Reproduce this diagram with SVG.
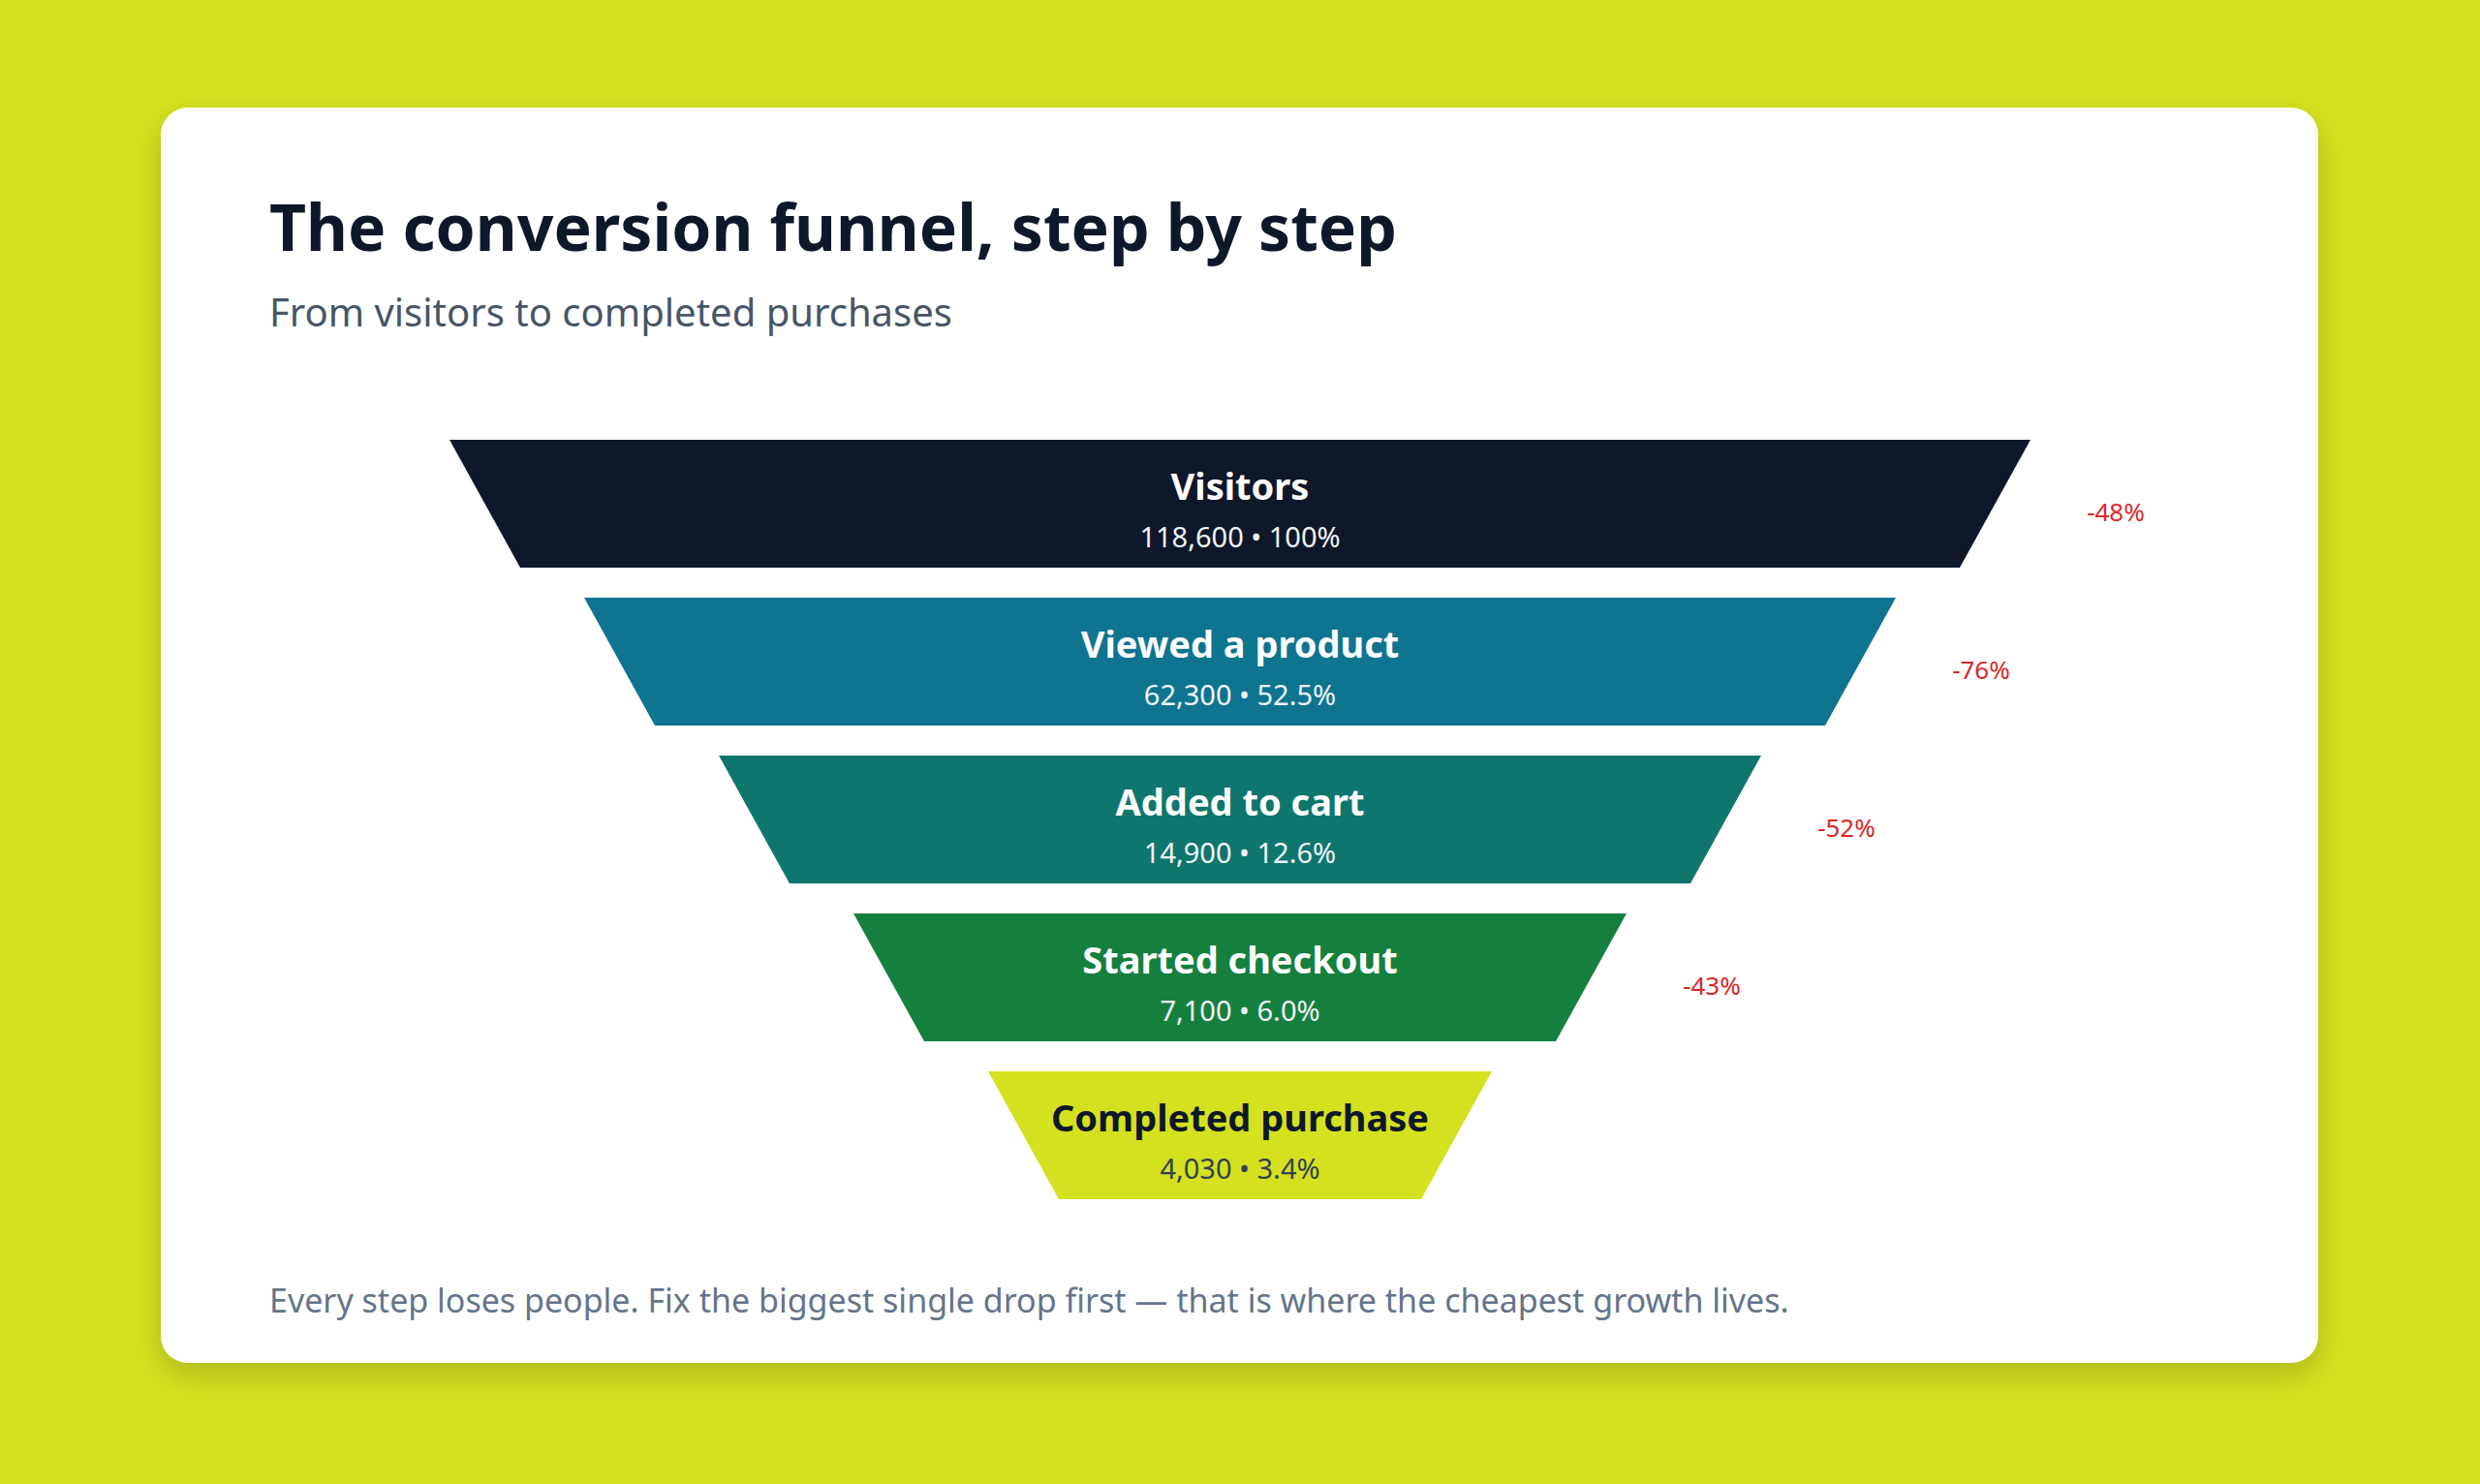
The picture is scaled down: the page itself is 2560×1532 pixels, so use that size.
<svg xmlns="http://www.w3.org/2000/svg" width="2560" height="1532" viewBox="0 0 2560 1532">
<defs>
<style>
.t{font-family:"Noto Sans","Open Sans",sans-serif}
.nm{font-size:38px;font-weight:700;fill:#fff;text-anchor:middle}
.vl{font-size:29px;fill:#f1f5f9;text-anchor:middle}
.dr{font-size:26px;fill:#dc2626;text-anchor:middle}
</style>
<filter id="sh" x="-10%" y="-10%" width="120%" height="130%"><feDropShadow dx="0" dy="12" stdDeviation="16" flood-color="#000" flood-opacity="0.18"/></filter>
</defs>
<rect width="2560" height="1532" fill="#d4e11f"/>
<rect x="166" y="111" width="2227" height="1296" rx="28" fill="#fff" filter="url(#sh)"/>
<text class="t" x="278" y="259" font-size="66" font-weight="700" fill="#0f172a">The conversion funnel, step by step</text>
<text class="t" x="278" y="337" font-size="40" fill="#475569">From visitors to completed purchases</text>
<g id="visitors"><polygon points="464,454 2096,454 2023,586 537,586" fill="#0f172a"/><text class="t nm" x="1280" y="516">Visitors</text><text class="t vl" x="1280" y="565">118,600 • 100%</text></g>
<g id="viewed"><polygon points="603,617 1957,617 1884,749 676,749" fill="#0e7490"/><text class="t nm" x="1280" y="679">Viewed a product</text><text class="t vl" x="1280" y="728">62,300 • 52.5%</text></g>
<g id="cart"><polygon points="742,780 1818,780 1745,912 815,912" fill="#0f766e"/><text class="t nm" x="1280" y="842">Added to cart</text><text class="t vl" x="1280" y="891">14,900 • 12.6%</text></g>
<g id="checkout"><polygon points="881,943 1679,943 1606,1075 954,1075" fill="#15803d"/><text class="t nm" x="1280" y="1005">Started checkout</text><text class="t vl" x="1280" y="1054">7,100 • 6.0%</text></g>
<g id="purchase"><polygon points="1020,1106 1540,1106 1467,1238 1093,1238" fill="#d4e11f"/><text class="t nm" x="1280" y="1168" style="fill:#0f172a">Completed purchase</text><text class="t vl" x="1280" y="1217" style="fill:#334155">4,030 • 3.4%</text></g>
<g id="drops">
<text class="t dr" x="2184" y="538">-48%</text>
<text class="t dr" x="2045" y="701">-76%</text>
<text class="t dr" x="1906" y="864">-52%</text>
<text class="t dr" x="1767" y="1027">-43%</text>
</g>
<text class="t" x="278" y="1355" font-size="34" fill="#64748b">Every step loses people. Fix the biggest single drop first — that is where the cheapest growth lives.</text>
</svg>
